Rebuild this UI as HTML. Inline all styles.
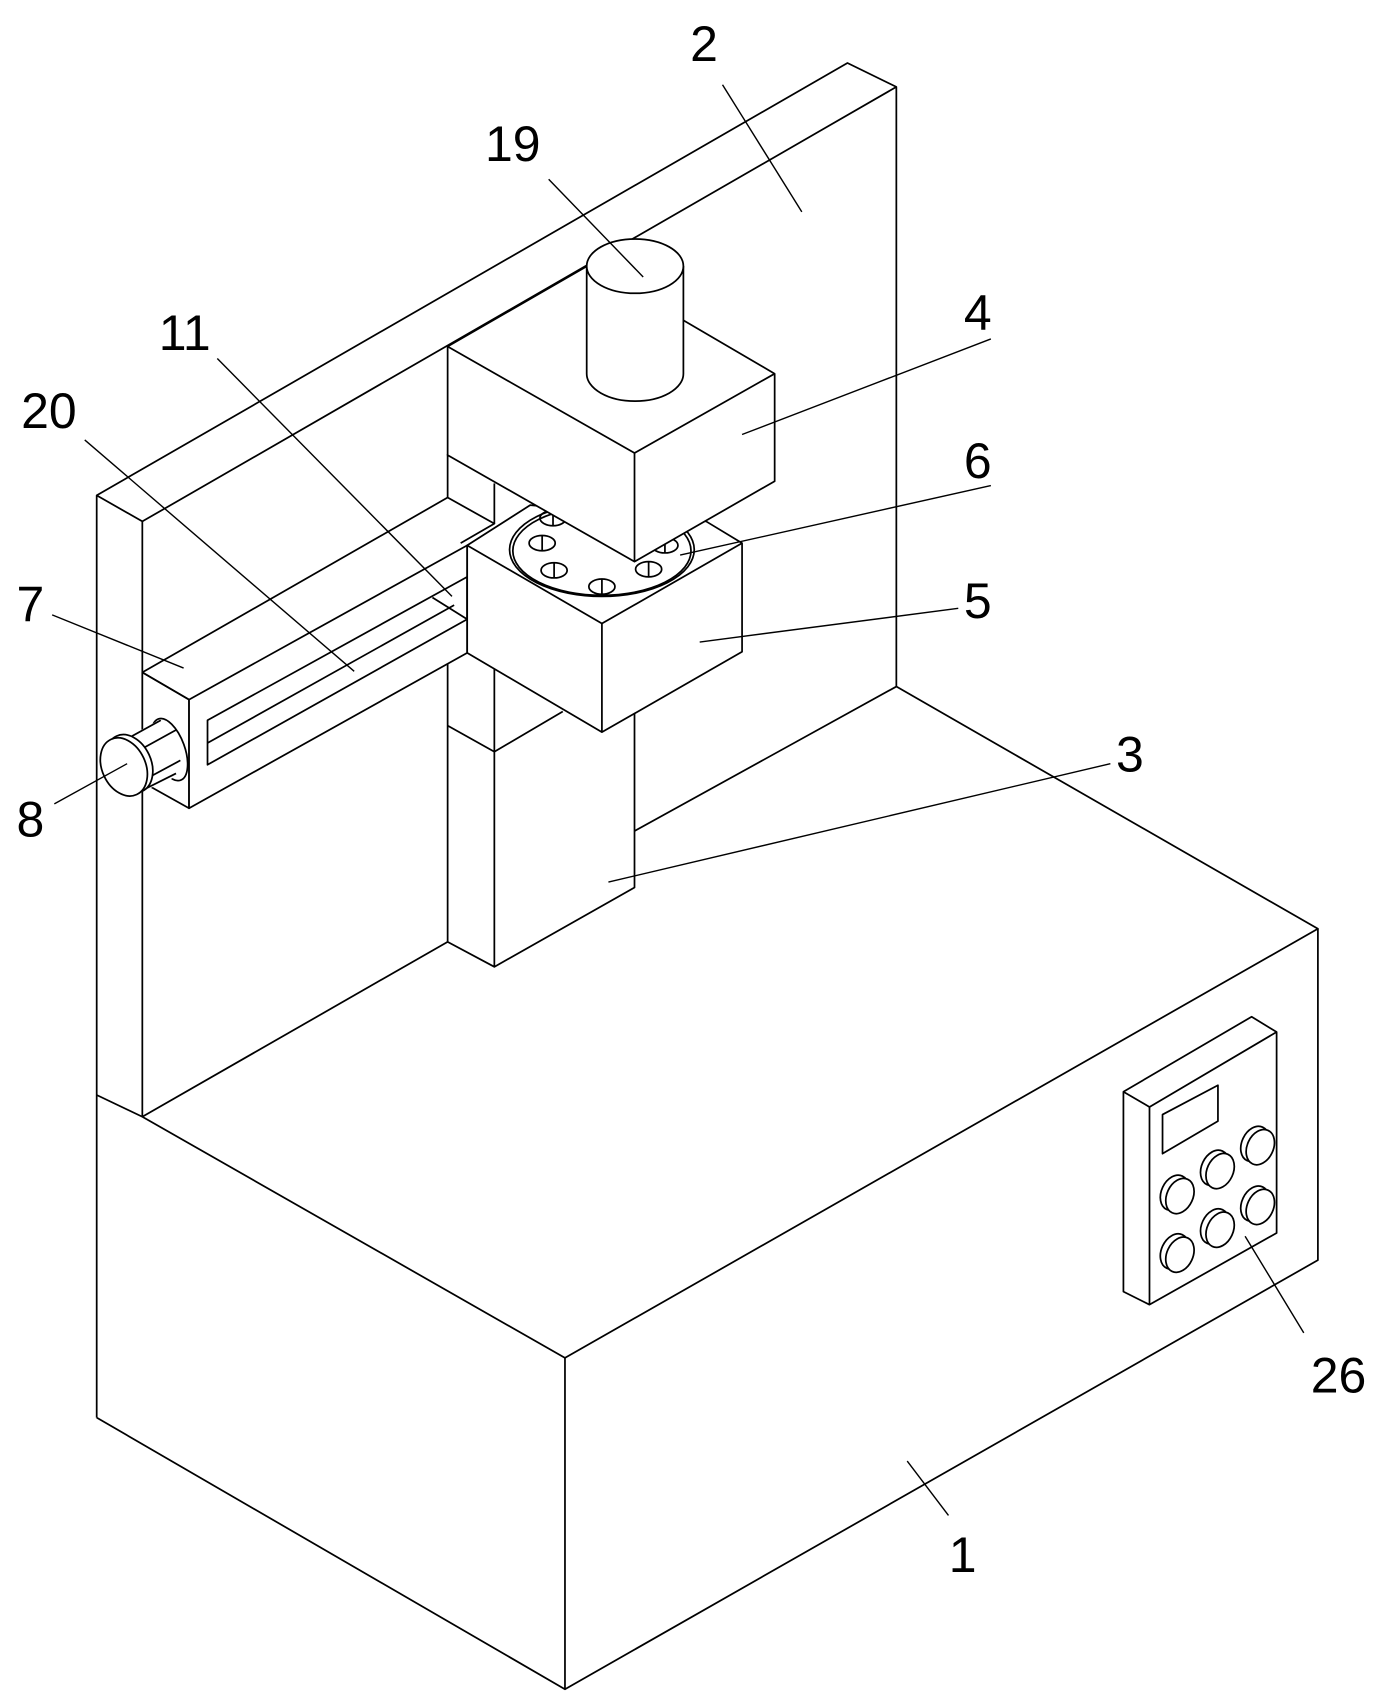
<!DOCTYPE html>
<html><head><meta charset="utf-8"><style>
html,body{margin:0;padding:0;background:#fff;}
svg{display:block;}
text{font-family:"Liberation Sans",sans-serif;font-size:46px;fill:#000;text-anchor:middle;}
</style></head><body>
<svg width="1382" height="1699" viewBox="0 0 1272 1564" preserveAspectRatio="none" xmlns="http://www.w3.org/2000/svg">
<g fill="none" stroke="#000" stroke-width="1.6" stroke-linejoin="round">
<!-- frame plate -->
<polyline points="89,1305 89,456 780,58 825,80 825,632"/>
<polyline points="89,456 131,480 825,80"/>
<line x1="131" y1="480" x2="131" y2="1028"/>
<line x1="131" y1="1028" x2="412" y2="867"/>
<line x1="584" y1="765" x2="825" y2="632"/>
<!-- base -->
<line x1="89" y1="1008" x2="131" y2="1028"/>
<polyline points="131,1028 520,1250 1213,855 825,632"/>
<polyline points="89,1305 520,1555 1213,1160 1213,855"/>
<line x1="520" y1="1250" x2="520" y2="1555"/>
<!-- column -->
<line x1="412" y1="418" x2="412" y2="458"/>
<line x1="412" y1="606" x2="412" y2="867"/>
<polyline points="412,867 455,890 584,817 584,657"/>
<line x1="455" y1="615" x2="455" y2="890"/>
<polyline points="412,668 455,692 518,655"/>
<line x1="455" y1="445" x2="455" y2="482"/>
<!-- slider 7 -->
<polyline points="131,619 412,458 455,482 424,500"/>
<polygon points="131,619 174,644 174,744 131,720" fill="#fff"/>
<polygon points="174,644 430,502 430,601 174,744" fill="#fff"/>
<line x1="131" y1="619" x2="174" y2="644"/>
<polygon points="191,663 430,531 430,570 191,704"/>
<line x1="191" y1="684" x2="418" y2="557"/>
<line x1="398" y1="550" x2="430" y2="570"/>
<!-- knob 8 -->
<ellipse cx="156" cy="690" rx="14" ry="30" transform="rotate(-20 156 690)" fill="#fff"/>
<polygon points="108,684 148,662 164,714 124,732" fill="#fff" stroke="none"/>
<line x1="110" y1="684" x2="148" y2="663"/>
<line x1="124" y1="731" x2="162" y2="712"/>
<line x1="133" y1="688" x2="162" y2="672"/>
<line x1="140" y1="714" x2="166" y2="700"/>
<ellipse cx="119" cy="703" rx="20" ry="28" transform="rotate(-25 119 703)" fill="#fff"/>
<ellipse cx="114" cy="706" rx="20" ry="28" transform="rotate(-25 114 706)" fill="#fff"/>
<!-- block 5 -->
<polygon points="430,502 488,465 650,480 683,500 683,600 554,674 430,601" fill="#fff"/>
<polyline points="430,502 554,574 683,500"/>
<line x1="554" y1="574" x2="554" y2="674"/>
<!-- disc 6 -->
<ellipse cx="554" cy="506" rx="85" ry="43" fill="#fff"/>
<ellipse cx="554" cy="507" rx="82" ry="41"/>
<g>
<ellipse cx="509" cy="477" rx="12" ry="7"/><line x1="509" y1="470" x2="509" y2="484"/>
<ellipse cx="499" cy="500" rx="12" ry="7"/><line x1="499" y1="493" x2="499" y2="507"/>
<ellipse cx="510" cy="525" rx="12" ry="7"/><line x1="510" y1="518" x2="510" y2="532"/>
<ellipse cx="554" cy="540" rx="12" ry="7"/><line x1="554" y1="533" x2="554" y2="547"/>
<ellipse cx="597" cy="524" rx="12" ry="7"/><line x1="597" y1="517" x2="597" y2="531"/>
<ellipse cx="612" cy="502" rx="12" ry="7"/><line x1="612" y1="495" x2="612" y2="509"/>
</g>
<!-- block 4 -->
<polygon points="412,319 542,244 713,344 713,443 584,517 412,419" fill="#fff"/>
<polyline points="412,319 584,417 713,344"/>
<line x1="584" y1="417" x2="584" y2="517"/>
<!-- cylinder 19 -->
<path d="M540,245 L540,344 A44,25 0 0 0 629,344 L629,245" fill="#fff"/>
<ellipse cx="584.5" cy="245" rx="44.5" ry="25" fill="#fff"/>
<!-- control panel 26 -->
<polygon points="1034,1005 1152,936 1175,950 1175,1135 1058,1201 1034,1189" fill="#fff"/>
<polyline points="1034,1005 1058,1019 1175,950"/>
<line x1="1058" y1="1019" x2="1058" y2="1201"/>
<polygon points="1070,1026 1121,999 1121,1032 1070,1062"/>
<g fill="#fff">
<ellipse cx="1081" cy="1098" rx="12" ry="17" transform="rotate(25 1081 1098)"/><ellipse cx="1086" cy="1101" rx="12" ry="17" transform="rotate(25 1086 1101)"/>
<ellipse cx="1118" cy="1075" rx="12" ry="17" transform="rotate(25 1118 1075)"/><ellipse cx="1123" cy="1078" rx="12" ry="17" transform="rotate(25 1123 1078)"/>
<ellipse cx="1155" cy="1053" rx="12" ry="17" transform="rotate(25 1155 1053)"/><ellipse cx="1160" cy="1056" rx="12" ry="17" transform="rotate(25 1160 1056)"/>
<ellipse cx="1081" cy="1152" rx="12" ry="17" transform="rotate(25 1081 1152)"/><ellipse cx="1086" cy="1155" rx="12" ry="17" transform="rotate(25 1086 1155)"/>
<ellipse cx="1118" cy="1129" rx="12" ry="17" transform="rotate(25 1118 1129)"/><ellipse cx="1123" cy="1132" rx="12" ry="17" transform="rotate(25 1123 1132)"/>
<ellipse cx="1155" cy="1108" rx="12" ry="17" transform="rotate(25 1155 1108)"/><ellipse cx="1160" cy="1111" rx="12" ry="17" transform="rotate(25 1160 1111)"/>
</g>
<!-- leaders -->
<g stroke-width="1.3">
<line x1="665" y1="78" x2="738" y2="195"/>
<line x1="505" y1="165" x2="592" y2="255"/>
<line x1="912" y1="312" x2="683" y2="400"/>
<line x1="912" y1="447" x2="626" y2="511"/>
<line x1="882" y1="560" x2="644" y2="591"/>
<line x1="1022" y1="703" x2="560" y2="812"/>
<line x1="48" y1="566" x2="169" y2="615"/>
<line x1="50" y1="740" x2="117" y2="703"/>
<line x1="78" y1="405" x2="326" y2="618"/>
<line x1="200" y1="330" x2="416" y2="549"/>
<line x1="873" y1="1395" x2="835" y2="1345"/>
<line x1="1146" y1="1138" x2="1200" y2="1227"/>
</g>
</g>
<text x="648" y="56">2</text>
<text x="472" y="148">19</text>
<text x="900" y="304">4</text>
<text x="900" y="440">6</text>
<text x="900" y="569">5</text>
<text x="1040" y="710">3</text>
<text x="28" y="572">7</text>
<text x="28" y="770">8</text>
<text x="45" y="394">20</text>
<text x="170" y="322">11</text>
<text x="886" y="1447">1</text>
<text x="1232" y="1282">26</text>
</svg>
</body></html>
